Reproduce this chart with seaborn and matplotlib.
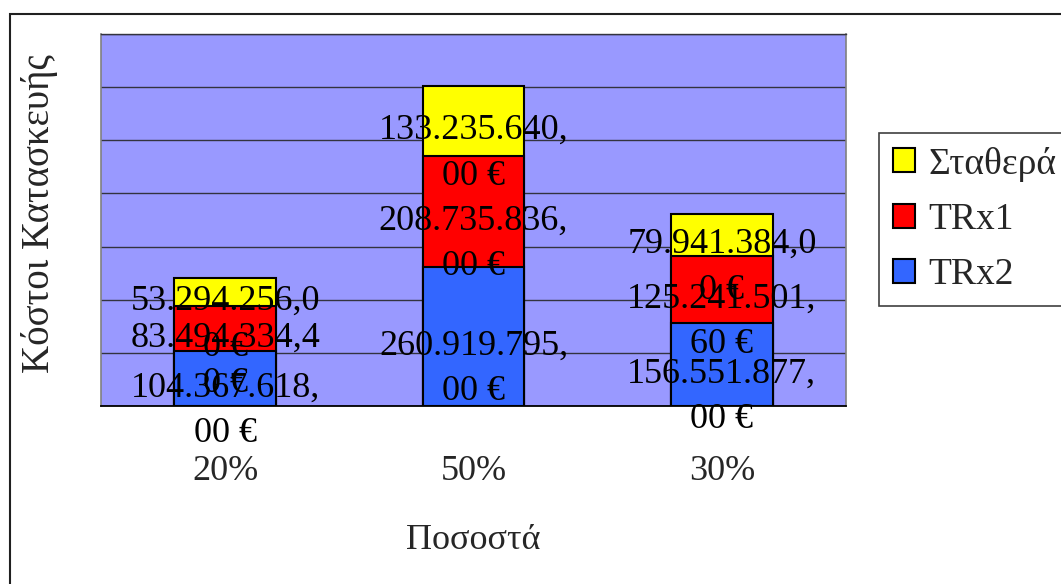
import numpy as np
import pandas as pd
import matplotlib
matplotlib.use("Agg")
import matplotlib.pyplot as plt
from matplotlib.patches import Patch, Rectangle
import seaborn as sns

# Construction cost per percentage scenario (euros)
percentages = ["20%", "50%", "30%"]
trx2 = [104367618.00, 260919795.00, 156551877.00]
trx1 = [83494334.40, 208735836.00, 125241501.60]
stathera = [53294256.00, 133235640.00, 79941384.00]

series_names = ["Σταθερά", "TRx1", "TRx2"]
series_colors = ["#FFFF00", "#FF0000", "#3366FF"]

sns.set_theme(style="white")
plt.rcParams["font.family"] = ["Liberation Serif", "DejaVu Serif"]

W, H = 1061, 584
fig = plt.figure(figsize=(W / 100, H / 100), dpi=100)
fig.patch.set_facecolor("white")
ax = fig.add_axes([101 / W, 1 - 406 / H, (846 - 101) / W, (406 - 34) / H])
ax.set_facecolor("#9999FF")

df = pd.DataFrame({"pct": percentages, "TRx2": trx2, "TRx1": trx1, "Σταθερά": stathera})
df["cum_trx1"] = df["TRx2"] + df["TRx1"]
df["cum_all"] = df["cum_trx1"] + df["Σταθερά"]

# stacked bars: draw cumulative heights from the tallest down
for col, color in [("cum_all", series_colors[0]), ("cum_trx1", series_colors[1]), ("TRx2", series_colors[2])]:
    sns.barplot(data=df, x="pct", y=col, color=color, saturation=1, width=0.41,
                edgecolor="black", linewidth=1.5, errorbar=None, ax=ax, zorder=3)

ax.set_ylim(0, 7e8)
ax.set_xlim(-0.5, 2.5)
ax.set_yticks(np.arange(0, 7e8 + 1, 1e8))
ax.yaxis.grid(True, color="#33333f", linewidth=1.0)
ax.set_axisbelow(True)
ax.tick_params(axis="y", left=False, labelleft=False)

ax.set_xticks(range(len(percentages)))
ax.set_xticklabels(percentages, fontsize=26)
ax.tick_params(axis="x", which="major", length=0, pad=35)
ax.set_xticks([-0.5, 0.5, 1.5, 2.5], minor=True)
ax.tick_params(axis="x", which="minor", direction="out", length=7, width=1.2, color="black")

for side in ["left", "right"]:
    ax.spines[side].set_color("#808080")
    ax.spines[side].set_linewidth(1.2)
ax.spines["top"].set_color("#33333f")
ax.spines["top"].set_linewidth(1.0)
ax.spines["bottom"].set_color("black")
ax.spines["bottom"].set_linewidth(1.3)


def euro(v):
    s = f"{v:,.2f}".replace(",", "_").replace(".", ",").replace("_", ".") + " €"
    return s[:12] + "\n" + s[12:]


for i in range(len(percentages)):
    base = 0.0
    for vals in (trx2, trx1, stathera):
        v = vals[i]
        ax.annotate(euro(v), (i, base + v / 2), xytext=(0, 5), textcoords="offset points",
                    ha="center", va="top", fontsize=26, linespacing=1.5,
                    color="black", zorder=6, annotation_clip=False)
        base += v

ax.set_xlabel("Ποσοστά", fontsize=26, va="top")
ax.xaxis.set_label_coords(0.5, -0.318)
ax.set_ylabel("Κόστοι Κατασκευής", fontsize=28)
ax.yaxis.set_label_coords(-0.058, 0.516)

handles = [Patch(facecolor=c, edgecolor="black", linewidth=1.5) for c in series_colors]
leg = fig.legend(handles, series_names, loc="upper left",
                 bbox_to_anchor=(879 / W, 1 - 133 / H), bbox_transform=fig.transFigure,
                 borderaxespad=0, fontsize=27, frameon=True, fancybox=False, framealpha=1,
                 edgecolor="#404040", handlelength=0.6, handleheight=0.6,
                 handletextpad=0.35, labelspacing=0.56, borderpad=0.36)
leg.get_frame().set_linewidth(1.2)

# chart frame
fig.patches.append(Rectangle((10 / W, -0.2), 1.2, 1.2 - 14 / H,
                             transform=fig.transFigure, fill=False,
                             edgecolor="#202020", linewidth=1.5, zorder=0))

fig.savefig("out.png", dpi=100)
